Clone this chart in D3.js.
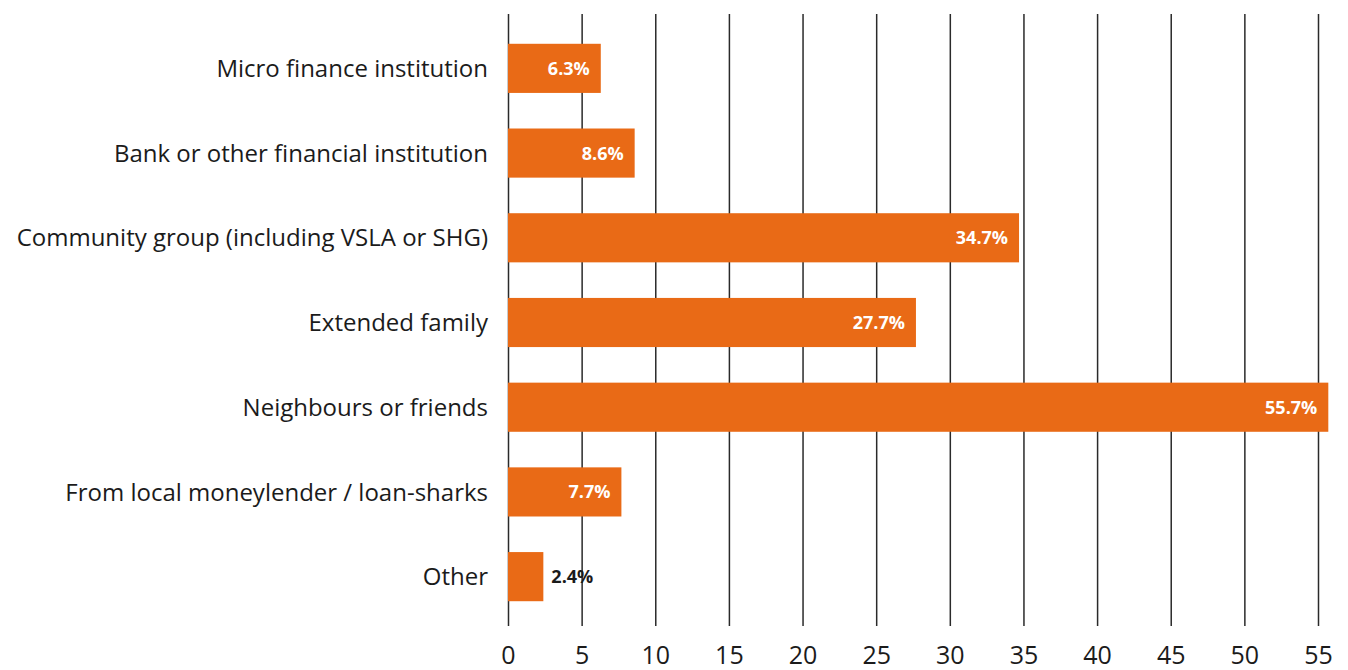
<!DOCTYPE html>
<html>
<head>
<meta charset="utf-8">
<script src="https://cdn.jsdelivr.net/npm/d3@7"></script>
<style>
  html, body { margin: 0; padding: 0; background: #fff; }
  svg text { font-family: "Open Sans", Lato, sans-serif; }
</style>
</head>
<body>
<svg id="chart" width="1348" height="670"></svg>
<script>
// Sources of borrowing, share of respondents (%)
const categories = [
  "Micro finance institution",
  "Bank or other financial institution",
  "Community group (including VSLA or SHG)",
  "Extended family",
  "Neighbours or friends",
  "From local moneylender / loan-sharks",
  "Other"
];
const values = [6.3, 8.6, 34.7, 27.7, 55.7, 7.7, 2.4];
const tickValues = [0, 5, 10, 15, 20, 25, 30, 35, 40, 45, 50, 55];

const svg = d3.select("#chart");
const orange = "#E96A16";
const ink = "#1b1b1b";

const plotLeft = 508, plotRight = 1318, plotTop = 14, plotBottom = 626;

const x = d3.scaleLinear().domain([0, 55]).range([plotLeft, plotRight]);
const y = d3.scaleBand()
  .domain(categories)
  .range([26, 619])
  .paddingInner(0.42)
  .paddingOuter(0.21);

const rows = categories.map((c, i) => ({ cat: c, value: values[i] }));

// Vertical grid lines with tick labels underneath
const xAxis = d3.axisBottom(x)
  .tickValues(tickValues)
  .tickFormat(d3.format("d"))
  .tickSize(-(plotBottom - plotTop))
  .tickPadding(20);

const gx = svg.append("g")
  .attr("transform", `translate(0,${plotBottom})`)
  .call(xAxis);
gx.select(".domain").remove();
gx.selectAll(".tick line").attr("stroke", "#2a2a2a").attr("stroke-width", 1.5);
gx.selectAll(".tick text")
  .attr("fill", ink)
  .style("font-size", "25px");

// Bars
svg.append("g").selectAll("rect")
  .data(rows)
  .join("rect")
  .attr("x", x(0))
  .attr("y", d => y(d.cat))
  .attr("width", d => x(d.value) - x(0))
  .attr("height", y.bandwidth())
  .attr("fill", orange);

// Category labels
svg.append("g").selectAll("text")
  .data(rows)
  .join("text")
  .attr("x", plotLeft - 20)
  .attr("y", d => y(d.cat) + y.bandwidth() / 2)
  .attr("dy", "0.36em")
  .attr("text-anchor", "end")
  .attr("fill", ink)
  .style("font-size", "24px")
  .text(d => d.cat);

// Value labels: inside the bar end, or just outside for short bars
const fmt = v => v.toFixed(1) + "%";
svg.append("g").selectAll("text")
  .data(rows)
  .join("text")
  .attr("x", d => d.value < 4 ? x(d.value) + 8 : x(d.value) - 11)
  .attr("y", d => y(d.cat) + y.bandwidth() / 2)
  .attr("dy", "0.36em")
  .attr("text-anchor", d => d.value < 4 ? "start" : "end")
  .attr("fill", d => d.value < 4 ? ink : "#fff")
  .style("font-size", "18px")
  .style("font-weight", "700")
  .text(d => fmt(d.value));
</script>
</body>
</html>
